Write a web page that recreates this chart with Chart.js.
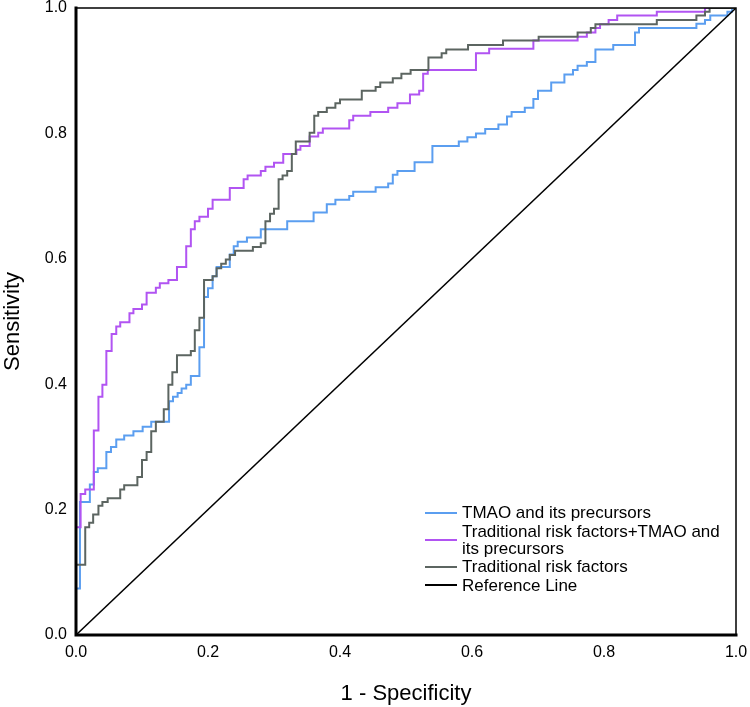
<!DOCTYPE html>
<html><head><meta charset="utf-8">
<script src="https://cdn.jsdelivr.net/npm/chart.js@4"></script>
<style>
html,body{margin:0;padding:0;background:#fff;}
#wrap{position:relative;width:750px;height:707px;}
#legend{position:absolute;left:425px;top:504px;font-family:"Liberation Sans",Arial,sans-serif;font-size:17px;line-height:17px;color:#000;}
.item{display:flex;align-items:center;margin-bottom:1.6px;}
.sw{width:32px;height:2px;margin-right:5px;flex:none;}
.tx{white-space:pre;}
</style></head>
<body><div id="wrap"><canvas id="c" width="750" height="707"></canvas><div id="legend"></div></div>
<script>
// ---- data ----
const seriesLabels = ["TMAO and its precursors", "Traditional risk factors+TMAO and\nits precursors", "Traditional risk factors", "Reference Line"];
const seriesColors = ["#5b9ef0", "#b154f2", "#5c6561", "#000000"];
const tickValues = [0, 0.2, 0.4, 0.6, 0.8, 1.0];

const tmaoFpr = [0,0,0.006,0.021,0.027,0.033,0.046,0.053,0.061,0.073,0.087,0.101,0.114,0.141,0.147,0.154,0.160,0.167,0.174,0.187,0.194,0.200,0.207,0.213,0.233,0.239,0.245,0.259,0.280,0.320,0.360,0.380,0.393,0.414,0.420,0.454,0.473,0.480,0.487,0.513,0.540,0.580,0.593,0.606,0.620,0.640,0.653,0.660,0.680,0.693,0.700,0.720,0.740,0.753,0.760,0.774,0.787,0.814,0.847,0.853,0.940,0.953,0.961,0.987,0.994,1];
const tmaoTpr = [0,0.074,0.212,0.240,0.260,0.266,0.292,0.300,0.312,0.318,0.325,0.332,0.340,0.373,0.380,0.386,0.393,0.399,0.413,0.459,0.539,0.553,0.572,0.587,0.607,0.620,0.627,0.634,0.647,0.660,0.674,0.687,0.694,0.700,0.707,0.714,0.720,0.734,0.740,0.754,0.780,0.787,0.794,0.800,0.807,0.814,0.827,0.834,0.841,0.855,0.868,0.881,0.894,0.901,0.908,0.914,0.934,0.941,0.961,0.968,0.975,0.981,0.988,0.994,1,1];

const combFpr = [0,0,0.007,0.014,0.027,0.034,0.040,0.046,0.054,0.061,0.067,0.081,0.087,0.100,0.107,0.121,0.127,0.140,0.153,0.167,0.174,0.180,0.187,0.200,0.207,0.233,0.254,0.260,0.280,0.287,0.300,0.314,0.334,0.340,0.354,0.367,0.374,0.414,0.420,0.446,0.473,0.487,0.506,0.520,0.526,0.533,0.606,0.626,0.693,0.760,0.774,0.787,0.794,0.807,0.820,0.880,0.953,1];
const combTpr = [0,0.172,0.225,0.232,0.326,0.380,0.399,0.453,0.480,0.492,0.499,0.513,0.520,0.527,0.546,0.554,0.561,0.566,0.587,0.620,0.647,0.660,0.667,0.680,0.694,0.713,0.727,0.733,0.740,0.747,0.753,0.767,0.774,0.780,0.795,0.801,0.808,0.821,0.828,0.834,0.841,0.848,0.862,0.868,0.895,0.901,0.928,0.935,0.948,0.954,0.961,0.968,0.974,0.981,0.988,0.994,1,1];

const tradFpr = [0,0,0.014,0.020,0.026,0.034,0.040,0.048,0.067,0.073,0.093,0.100,0.107,0.114,0.121,0.133,0.140,0.146,0.153,0.174,0.180,0.187,0.194,0.207,0.213,0.220,0.227,0.233,0.241,0.268,0.280,0.287,0.294,0.300,0.307,0.313,0.320,0.327,0.333,0.354,0.361,0.367,0.380,0.393,0.400,0.433,0.454,0.461,0.480,0.493,0.507,0.534,0.554,0.561,0.594,0.647,0.701,0.760,0.780,0.787,0.880,0.940,0.953,0.960,1];
const tradTpr = [0,0.112,0.172,0.179,0.192,0.206,0.212,0.218,0.232,0.239,0.252,0.279,0.292,0.325,0.340,0.360,0.399,0.419,0.446,0.453,0.486,0.506,0.566,0.572,0.585,0.592,0.599,0.606,0.613,0.619,0.625,0.660,0.672,0.680,0.727,0.733,0.740,0.767,0.787,0.801,0.828,0.834,0.841,0.848,0.854,0.868,0.874,0.881,0.888,0.895,0.901,0.921,0.928,0.934,0.941,0.948,0.954,0.961,0.968,0.974,0.981,0.988,0.994,1,1];

const refFpr = [0, 1];
const refTpr = [0, 1];

// ---- build ----
const FONT = '"Liberation Sans", Arial, sans-serif';
const toPts = (xs, ys) => xs.map((x, i) => ({x: x, y: ys[i]}));
const curves = [[tmaoFpr, tmaoTpr], [combFpr, combTpr], [tradFpr, tradTpr], [refFpr, refTpr]];

const datasets = curves.map((c, i) => ({
  label: seriesLabels[i],
  data: toPts(c[0], c[1]),
  showLine: true,
  stepped: i < 3 ? true : false,
  borderColor: seriesColors[i],
  backgroundColor: seriesColors[i],
  borderWidth: i < 3 ? 2 : 1.5,
  pointRadius: 0,
  fill: false,
  order: 3 - i
}));

const framePlugin = {
  id: 'frame',
  afterDatasetsDraw(chart) {
    const a = chart.chartArea, ctx = chart.ctx;
    ctx.save();
    ctx.strokeStyle = '#000';
    ctx.lineWidth = 1.5;
    ctx.beginPath();
    ctx.moveTo(a.left, a.top); ctx.lineTo(a.right, a.top); ctx.lineTo(a.right, a.bottom);
    ctx.stroke();
    ctx.lineWidth = 3;
    ctx.lineCap = 'square';
    ctx.beginPath();
    ctx.moveTo(a.left, a.top); ctx.lineTo(a.left, a.bottom); ctx.lineTo(a.right, a.bottom);
    ctx.stroke();
    ctx.restore();
  }
};

const tickCfg = {
  color: '#000',
  font: {family: FONT, size: 16},
  autoSkip: false,
  maxRotation: 0,
  callback: v => Number(v).toFixed(1)
};

new Chart(document.getElementById('c'), {
  type: 'scatter',
  data: {datasets},
  options: {
    responsive: false,
    animation: false,
    events: [],
    layout: {padding: {top: 8, right: 14, left: 0, bottom: 0}},
    plugins: {legend: {display: false}, tooltip: {enabled: false}},
    scales: {
      x: {
        type: 'linear', min: 0, max: 1,
        afterBuildTicks: s => { s.ticks = tickValues.map(v => ({value: v})); },
        afterFit: s => { s.height = 72; s.paddingLeft = 0; s.paddingRight = 0; },
        grid: {display: false, drawTicks: false},
        border: {display: false},
        ticks: Object.assign({}, tickCfg, {padding: 8}),
        title: {display: true, text: '1 - Specificity', color: '#000', font: {family: FONT, size: 22}, padding: 0}
      },
      y: {
        type: 'linear', min: 0, max: 1,
        afterBuildTicks: s => { s.ticks = tickValues.map(v => ({value: v})); },
        afterFit: s => { s.width = 76; s.paddingTop = 0; s.paddingBottom = 0; },
        grid: {display: false, drawTicks: false},
        border: {display: false},
        ticks: Object.assign({}, tickCfg, {padding: 9}),
        title: {display: true, text: 'Sensitivity', color: '#000', font: {family: FONT, size: 22}, padding: 0}
      }
    }
  },
  plugins: [framePlugin]
});

// HTML legend built from the series
const lg = document.getElementById('legend');
seriesLabels.forEach((lab, i) => {
  const it = document.createElement('div'); it.className = 'item';
  const sw = document.createElement('span'); sw.className = 'sw'; sw.style.background = seriesColors[i];
  const tx = document.createElement('span'); tx.className = 'tx'; tx.textContent = lab;
  it.appendChild(sw); it.appendChild(tx); lg.appendChild(it);
});
</script>
</body></html>
